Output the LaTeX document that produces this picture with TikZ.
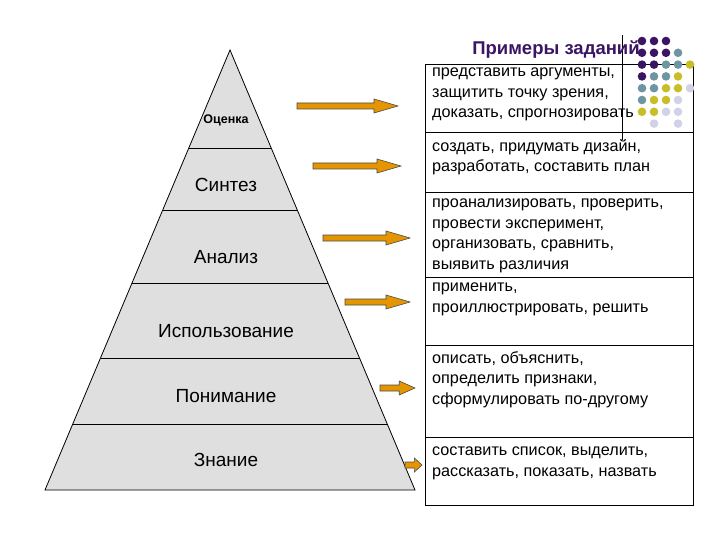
\documentclass[tikz,border=0pt]{standalone}
\usepackage{fontspec}
\setmainfont{Liberation Sans}
\begin{document}
\begin{tikzpicture}[x=1pt,y=-1pt,
  lvl/.style={font=\fontsize{19}{21}\selectfont},
  task/.style={font=\fontsize{16.2}{20.5}\selectfont,align=left,anchor=north west,inner sep=0pt},
  arr/.style={fill=orange!70!yellow!90!black,draw=black!70,line width=0.6pt}]
\useasboundingbox (0,0) rectangle (720,540);
\fill[white] (0,0) rectangle (720,540);
% pyramid
\filldraw[fill=gray!25,draw=black,line width=0.8pt] (230,50) -- (415,490) -- (45,490) -- cycle;
\foreach \y in {148,210,283,358,424}{\draw[line width=0.8pt] ({230-(\y-50)/440*185},\y) -- ({230+(\y-50)/440*185},\y);}
\node[font=\fontsize{12.5}{14}\bfseries\selectfont] (o) at (226,120) {Оценка};
\node[lvl] (s) at (226,185) {Синтез};
\node[lvl] (a) at (226,257) {Анализ};
\node[lvl] (i) at (226,331) {Использование};
\node[lvl] (p) at (226,396) {Понимание};
\node[lvl] (z) at (226,460) {Знание};
% boxes
\draw[line width=1pt] (425,65) rectangle (693,505);
\foreach \y in {133,193,277,345,437}{\draw[line width=1pt] (425,\y) -- (693,\y);}
\draw[line width=0.6pt] (622,35) -- (622,140);
% dots
\definecolor{dp}{RGB}{60,20,100}\definecolor{dt}{RGB}{110,150,160}
\definecolor{dy}{RGB}{200,190,40}\definecolor{dl}{RGB}{210,210,230}
\foreach \r/\cols in {0/{dp,dp,dp},1/{dp,dp,dp,dt},2/{dp,dp,dt,dt,dy},3/{dp,dt,dt,dy},4/{dt,dt,dy,dy,dl},5/{dt,dy,dy,dl},6/{dy,dy,dl,dl},7/{white,dl,white,dl}}{
  \foreach \c [count=\k from 0] in \cols {\fill[\c] ({642+12*\k},{41+11.8*\r}) circle (4.3);}}
\node[font=\fontsize{18.5}{20}\bfseries\selectfont,text=dp] (t) at (556,50) {Примеры заданий};
\node[task] (b1) at (432,68) {представить аргументы,\\защитить точку зрения,\\доказать, спрогнозировать};
\node[task] (b2) at (432,139) {создать, придумать дизайн,\\разработать, составить план};
\node[task] (b3) at (432,199) {проанализировать, проверить,\\провести эксперимент,\\организовать, сравнить,\\выявить различия};
\node[task] (b4) at (432,283) {применить,\\проиллюстрировать, решить};
\node[task] (b5) at (432,351) {описать, объяснить,\\определить признаки,\\сформулировать по-другому};
\node[task] (b6) at (432,447) {составить список, выделить,\\рассказать, показать, назвать};
% arrows
\foreach \xa/\xb/\y in {297/398/106,313/401/166,323/410/238,345/410/302,380/415/388,405/422/465}{
  \pgfmathsetmacro{\h}{min(24,(\xb-\xa)*0.45)}
  \filldraw[arr] (\xa,\y-3) -- (\xb-\h,\y-3) -- (\xb-\h,\y-7) -- (\xb,\y) -- (\xb-\h,\y+7) -- (\xb-\h,\y+3) -- (\xa,\y+3) -- cycle;}
\end{tikzpicture}
\end{document}
